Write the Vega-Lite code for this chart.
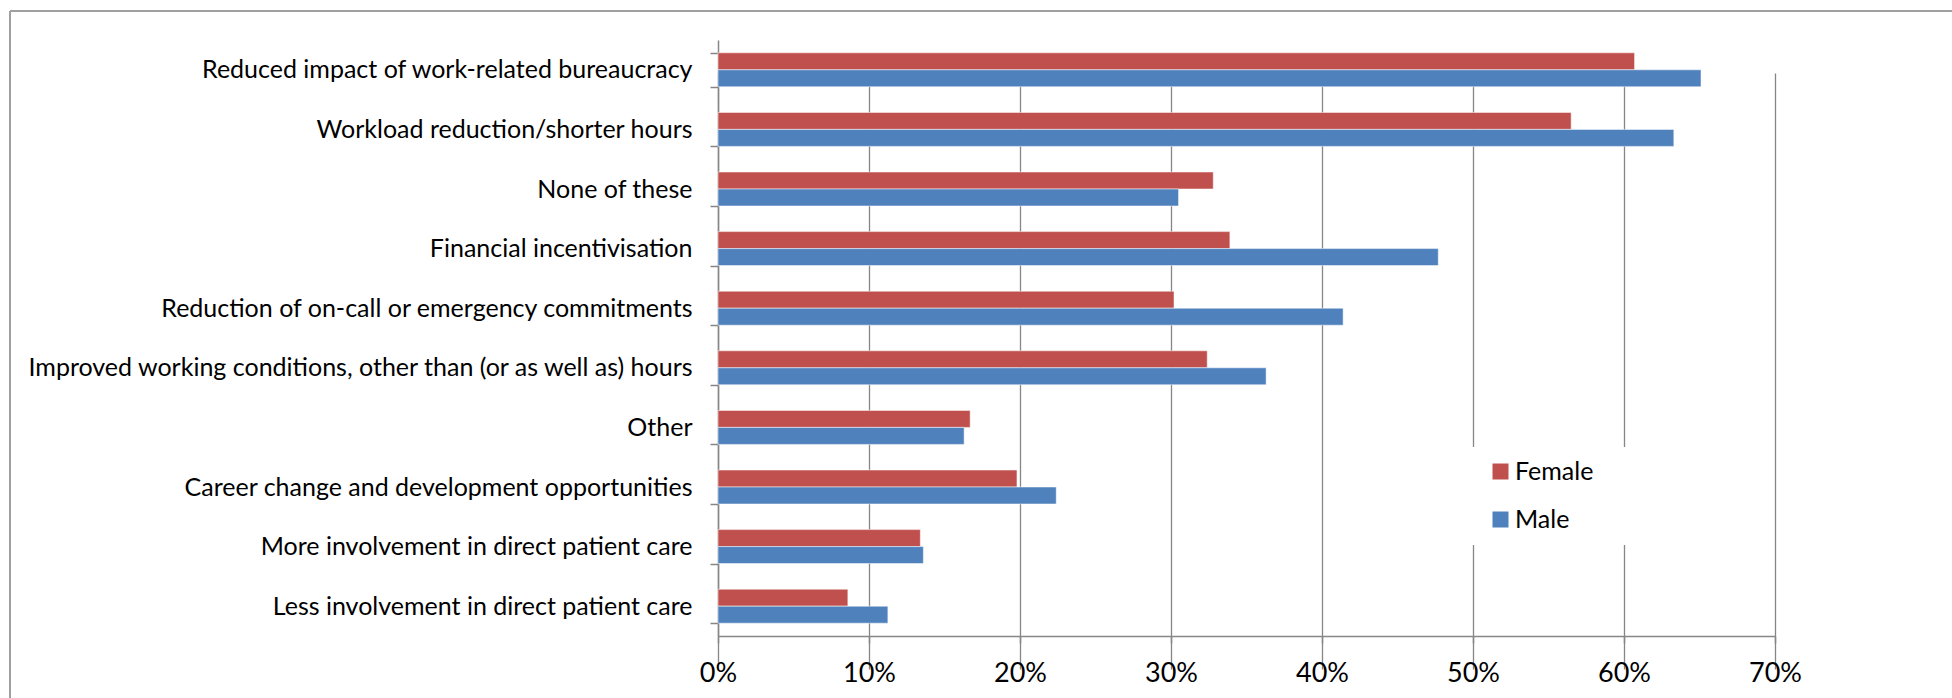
{
  "$schema": "https://vega.github.io/schema/vega-lite/v6.json",
  "width": 1942,
  "height": 687,
  "autosize": {"type": "none"},
  "padding": {"left": 10, "top": 11, "right": 0, "bottom": 0},
  "background": "white",
  "config": {
    "view": {"stroke": "#a0a0a0", "strokeWidth": 2, "strokeDash": [1942, 2629, 687, 0]},
    "font": "Lato"
  },
  "data": {
    "values": [
      {"category": "Reduced impact of work-related bureaucracy", "gender": "Female", "value": 0.607},
      {"category": "Reduced impact of work-related bureaucracy", "gender": "Male", "value": 0.651},
      {"category": "Workload reduction/shorter hours", "gender": "Female", "value": 0.565},
      {"category": "Workload reduction/shorter hours", "gender": "Male", "value": 0.633},
      {"category": "None of these", "gender": "Female", "value": 0.328},
      {"category": "None of these", "gender": "Male", "value": 0.305},
      {"category": "Financial incentivisation", "gender": "Female", "value": 0.339},
      {"category": "Financial incentivisation", "gender": "Male", "value": 0.477},
      {"category": "Reduction of on-call or emergency commitments", "gender": "Female", "value": 0.302},
      {"category": "Reduction of on-call or emergency commitments", "gender": "Male", "value": 0.414},
      {"category": "Improved working conditions, other than (or as well as) hours", "gender": "Female", "value": 0.324},
      {"category": "Improved working conditions, other than (or as well as) hours", "gender": "Male", "value": 0.363},
      {"category": "Other", "gender": "Female", "value": 0.167},
      {"category": "Other", "gender": "Male", "value": 0.163},
      {"category": "Career change and development opportunities", "gender": "Female", "value": 0.198},
      {"category": "Career change and development opportunities", "gender": "Male", "value": 0.224},
      {"category": "More involvement in direct patient care", "gender": "Female", "value": 0.134},
      {"category": "More involvement in direct patient care", "gender": "Male", "value": 0.136},
      {"category": "Less involvement in direct patient care", "gender": "Female", "value": 0.086},
      {"category": "Less involvement in direct patient care", "gender": "Male", "value": 0.1125}
    ]
  },
  "mark": {"type": "bar", "stroke": "white", "strokeWidth": 1, "strokeOpacity": 0.5},
  "encoding": {
    "y": {
      "field": "category",
      "type": "nominal",
      "sort": [
        "Reduced impact of work-related bureaucracy",
        "Workload reduction/shorter hours",
        "None of these",
        "Financial incentivisation",
        "Reduction of on-call or emergency commitments",
        "Improved working conditions, other than (or as well as) hours",
        "Other",
        "Career change and development opportunities",
        "More involvement in direct patient care",
        "Less involvement in direct patient care"
      ],
      "scale": {"range": [29, 625], "paddingInner": 0.43, "paddingOuter": 0.215},
      "axis": {
        "title": null,
        "offset": -708,
        "grid": false,
        "domainColor": "#868686",
        "domainWidth": 1.5,
        "tickColor": "#868686",
        "tickWidth": 1.5,
        "tickSize": 8,
        "tickBand": "extent",
        "labelFont": "Lato",
        "labelFontSize": 25,
        "labelColor": "#000000",
        "labelPadding": 18,
        "labelLimit": 900
      }
    },
    "yOffset": {
      "field": "gender",
      "type": "nominal",
      "sort": ["Female", "Male"],
      "scale": {"paddingInner": 0, "paddingOuter": 0}
    },
    "x": {
      "field": "value",
      "type": "quantitative",
      "scale": {"domain": [0, 0.7], "range": [708, 1765], "nice": false, "zero": true},
      "axis": {
        "title": null,
        "orient": "bottom",
        "offset": -62,
        "format": ".0%",
        "values": [0, 0.1, 0.2, 0.3, 0.4, 0.5, 0.6, 0.7],
        "grid": true,
        "gridColor": "#868686",
        "gridWidth": 1.3,
        "domainColor": "#868686",
        "domainWidth": 1.5,
        "tickColor": "#868686",
        "tickWidth": 1.5,
        "tickSize": 7,
        "labelFont": "Lato",
        "labelFontSize": 27,
        "labelColor": "#000000",
        "labelPadding": 17,
        "labelFlush": false
      }
    },
    "color": {
      "field": "gender",
      "type": "nominal",
      "scale": {"domain": ["Female", "Male"], "range": ["#C0504D", "#4F81BD"]},
      "legend": {
        "title": "\u00a0",
        "titleOrient": "right",
        "titlePadding": 24,
        "titleFontSize": 24,
        "orient": "none",
        "legendX": 1452,
        "legendY": 436,
        "fillColor": "white",
        "padding": 12,
        "symbolOffset": 14,
        "symbolType": "square",
        "symbolSize": 256,
        "symbolStrokeWidth": 0,
        "labelFont": "Lato",
        "labelFontSize": 25,
        "labelColor": "#000000",
        "labelOffset": 2,
        "rowPadding": 22
      }
    }
  }
}
